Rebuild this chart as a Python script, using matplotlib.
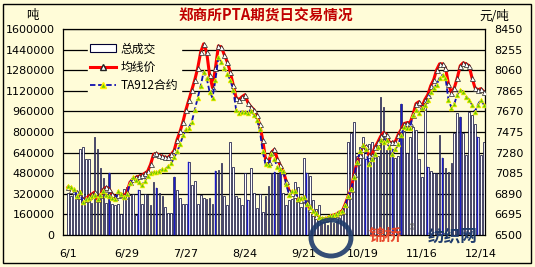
import matplotlib.pyplot as plt
import numpy as np
from matplotlib.lines import Line2D
from matplotlib.patches import Patch, Ellipse

plt.rcParams['font.family'] = ['DejaVu Sans', 'Noto Sans CJK SC']

# trading-day index labels
tick_labels = ['6/1', '6/29', '7/27', '8/24', '9/21', '10/19', '11/16', '12/14']

# total volume (lots), one per trading day
volume = [
    330000, 300000, 360000, 280000, 670000, 680000, 590000, 590000, 250000, 760000,
    670000, 520000, 440000, 250000, 480000, 240000, 230000, 240000, 160000, 360000,
    370000, 310000, 320000, 155000, 350000, 240000, 320000, 310000, 230000, 410000,
    365000, 330000, 300000, 220000, 170000, 170000, 450000, 350000, 290000, 240000,
    240000, 570000, 390000, 420000, 240000, 310000, 290000, 280000, 290000, 240000,
    500000, 505000, 560000, 300000, 230000, 720000, 530000, 300000, 290000, 230000,
    480000, 270000, 520000, 330000, 210000, 320000, 180000, 300000, 380000, 480000,
    490000, 470000, 490000, 330000, 230000, 270000, 280000, 410000, 370000, 220000,
    600000, 480000, 460000, 270000, 200000, 230000, 95000, 90000, 80000, 100000,
    90000, 110000, 130000, 200000, 250000, 720000, 790000, 880000, 610000, 680000,
    760000, 590000, 710000, 720000, 620000, 610000, 1075000, 995000, 660000, 700000,
    670000, 600000, 610000, 1020000, 810000, 640000, 760000, 840000, 815000, 590000,
    450000, 1060000, 530000, 500000, 480000, 480000, 780000, 600000, 520000, 490000,
    560000, 790000, 950000, 920000, 790000, 620000, 955000, 930000, 860000, 760000,
    620000, 720000,
]
# days whose volume bar is drawn in blue
blue_days = [14, 24, 30, 36, 41, 50, 61, 70, 72, 81, 101, 110, 113, 122, 127, 133, 139]

# 均线价 (yuan/ton)
avg_price = [
    6952, 6924, 6914, 6905, 6867, 6839, 6839, 6867, 6886, 6905,
    6839, 6877, 6933, 6952, 6933, 6886, 6858, 6877, 6886, 6867,
    6905, 6999, 7028, 7046, 7056, 7065, 7084, 7103, 7169, 7263,
    7272, 7254, 7244, 7235, 7235, 7263, 7301, 7404, 7480, 7574,
    7687, 7781, 7875, 7970, 8083, 8233, 8309, 8233, 8017, 7894,
    8083, 8290, 8280, 8205, 8139, 8045, 7922, 7800, 7781, 7809,
    7828, 7753, 7715, 7687, 7640, 7546, 7404, 7216, 7188, 7282,
    7310, 7216, 7159, 7103, 7009, 6914, 6896, 6877, 6839, 6830,
    6839, 6811, 6745, 6707, 6679, 6660, 6651, 6651, 6660, 6679,
    6688, 6698, 6717, 6726, 6792, 6867, 6933, 7075, 7188, 7254,
    7310, 7338, 7254, 7254, 7329, 7376, 7433, 7470, 7451, 7376,
    7376, 7385, 7451, 7499, 7555, 7564, 7564, 7640, 7743, 7762,
    7715, 7781, 7828, 7913, 7970, 8064, 8120, 8120, 8083, 7932,
    7847, 7894, 7988, 8101, 8130, 8120, 8101, 7988, 7894, 7875,
    7885, 7856,
]

# TA912合约 (yuan/ton)
ta912 = [
    6962, 6952, 6933, 6867, 6905, 6811, 6839, 6849, 6867, 6877,
    6839, 6877, 6914, 6877, 6867, 6849, 6839, 6914, 6886, 6858,
    6886, 6990, 7046, 7018, 6999, 6971, 7009, 7056, 7084, 7093,
    7093, 7103, 7122, 7122, 7150, 7178, 7235, 7291, 7357, 7442,
    7499, 7517, 7574, 7687, 7800, 7913, 8045, 7988, 7856, 7800,
    7970, 8186, 8139, 8083, 8026, 7970, 7875, 7687, 7659, 7668,
    7668, 7659, 7678, 7640, 7593, 7499, 7291, 7169, 7159, 7263,
    7216, 7141, 7122, 7103, 6980, 6877, 6914, 6914, 6839, 6849,
    6858, 6792, 6764, 6726, 6707, 6670, 6660, 6660, 6670, 6679,
    6688, 6698, 6717, 6726, 6783, 6867, 6933, 7046, 7188, 7291,
    7348, 7310, 7169, 7216, 7263, 7329, 7404, 7385, 7404, 7329,
    7263, 7310, 7357, 7451, 7527, 7517, 7517, 7640, 7687, 7659,
    7706, 7734, 7781, 7856, 7894, 7922, 7988, 8017, 7988, 7781,
    7706, 7743, 7828, 7875, 7856, 7809, 7781, 7734, 7668, 7734,
    7781, 7734,
]

bg = '#fffcd8'
days = np.arange(len(volume))

fig = plt.figure(figsize=(5.35, 2.67), dpi=100, facecolor=bg)
ax = fig.add_axes([63 / 535, 1 - 235 / 267, 422 / 535, 206 / 267])
ax.set_facecolor(bg)

ax.bar(days, volume, width=0.58, color='white', edgecolor='#000033', linewidth=0.5, zorder=2)
ax.bar(days[blue_days], np.array(volume)[blue_days], width=0.38, color='#1c1cc8',
       edgecolor='#1c1cc8', linewidth=0.3, zorder=3)

ax.set_ylim(0, 1600000)
ax.set_yticks(np.arange(0, 1600001, 160000))
ax.set_yticklabels([str(v) for v in range(0, 1600001, 160000)])
ax.yaxis.grid(True, color='black', linewidth=0.9, zorder=1)
ax.set_axisbelow(True)
ax.set_xlim(-1.7, 141.4)
ax.set_xticks(np.arange(0, 141, 20))
ax.set_xticklabels(tick_labels)
ax.tick_params(axis='both', length=0, labelsize=8)
ax.tick_params(axis='x', pad=10)
ax.tick_params(axis='y', pad=6)
for s in ax.spines.values():
    s.set_color('black')
    s.set_linewidth(0.9)

ax2 = ax.twinx()
ax2.plot(days, avg_price, color='#ff0000', linewidth=2.2, marker='^', markersize=3.6,
         markerfacecolor='white', markeredgecolor='#222222', markeredgewidth=0.5, zorder=4)
ax2.plot(days, ta912, color='#1010b0', linewidth=1.3, linestyle=(0, (3, 1.5)), marker='^',
         markersize=3.4, markerfacecolor='#66cc00', markeredgecolor='#ffee00',
         markeredgewidth=0.5, zorder=5)
ax2.set_ylim(6500, 8450)
ax2.set_yticks(np.arange(6500, 8451, 195))
ax2.tick_params(axis='y', length=0, labelsize=8, pad=7)
for s in ax2.spines.values():
    s.set_visible(False)

handles = [
    Patch(facecolor='white', edgecolor='#000033', linewidth=0.8),
    Line2D([], [], color='#ff0000', linewidth=2.2, marker='^', markersize=4.2,
           markerfacecolor='white', markeredgecolor='#222222'),
    Line2D([], [], color='#1010b0', linewidth=1.3, linestyle=(0, (3, 1.5)), marker='^',
           markersize=4.0, markerfacecolor='#66cc00', markeredgecolor='#ffee00'),
]
leg = ax2.legend(handles, ['总成交', '均线价', 'TA912合约'], loc='upper left',
                 bbox_to_anchor=(0.045, 0.975), frameon=True, facecolor=bg, edgecolor=bg,
                 framealpha=1, fancybox=False, borderpad=0.2, labelspacing=0.45,
                 handlelength=2.2, handletextpad=0.4, prop={'family': ['Noto Sans CJK SC'], 'size': 8.5})

fig.text(266 / 535, 1 - 16 / 267, '郑商所PTA期货日交易情况', color='#c00000', fontsize=10.5,
         fontweight='bold', family=['Noto Sans CJK SC'], ha='center', va='center')
fig.text(32 / 535, 1 - 16 / 267, '吨', fontsize=9, family=['Noto Sans CJK SC'], ha='center', va='center')
fig.text(494 / 535, 1 - 16 / 267, '元/吨', fontsize=9, family=['Noto Sans CJK SC'],
         ha='center', va='center')

# watermark
fig.patches.append(Ellipse((331 / 535, 1 - 238 / 267), 40 / 535, 36 / 267, transform=fig.transFigure,
                           facecolor='none', edgecolor='#1f3b6b', linewidth=3.5, alpha=0.9))
fig.text(385 / 535, 1 - 236 / 267, '锦桥', color='#e8462a', fontsize=12, fontweight='bold',
         family=['Noto Sans CJK SC'], ha='center', va='center')
fig.text(412 / 535, 1 - 228 / 267, '®', color='#555555', fontsize=6, ha='center', va='center')
fig.text(453 / 535, 1 - 236 / 267, '纺织网', color='#1f3b6b', fontsize=12, fontweight='bold',
         family=['Noto Sans CJK SC'], ha='center', va='center')

border = plt.Rectangle((3 / 535, 4 / 267), 528 / 535, 259 / 267, transform=fig.transFigure,
                       facecolor='none', edgecolor='black', linewidth=1.0)
fig.patches.append(border)

fig.savefig('out.png', dpi=100, facecolor=bg)
